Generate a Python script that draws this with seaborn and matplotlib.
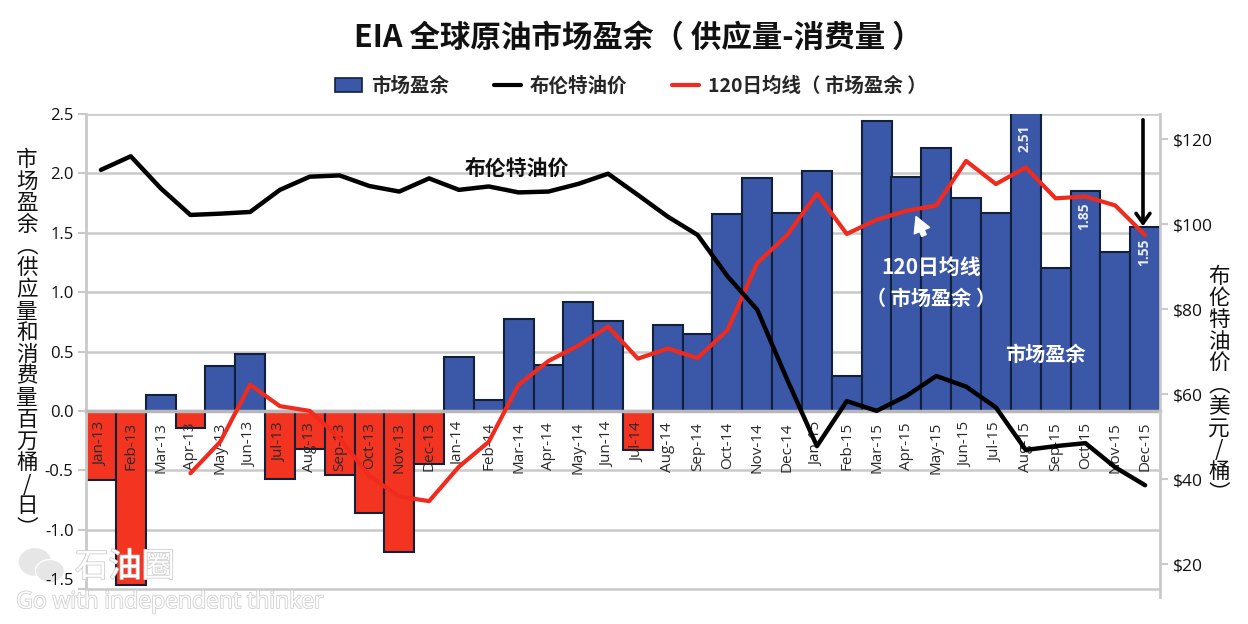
import numpy as np
import pandas as pd
import seaborn as sns
import matplotlib
matplotlib.use("Agg")
import matplotlib.pyplot as plt
import matplotlib.patheffects as pe
from matplotlib.patches import Patch, Ellipse, FancyArrowPatch
from matplotlib.lines import Line2D

months = ["Jan-13","Feb-13","Mar-13","Apr-13","May-13","Jun-13","Jul-13","Aug-13","Sep-13","Oct-13","Nov-13","Dec-13",
          "Jan-14","Feb-14","Mar-14","Apr-14","May-14","Jun-14","Jul-14","Aug-14","Sep-14","Oct-14","Nov-14","Dec-14",
          "Jan-15","Feb-15","Mar-15","Apr-15","May-15","Jun-15","Jul-15","Aug-15","Sep-15","Oct-15","Nov-15","Dec-15"]
surplus = [-0.58,-1.47,0.13,-0.14,0.38,0.48,-0.57,-0.32,-0.54,-0.86,-1.19,-0.45,
           0.45,0.09,0.77,0.39,0.92,0.755,-0.33,0.72,0.65,1.66,1.96,1.67,
           2.02,0.295,2.44,1.97,2.21,1.79,1.67,2.51,1.20,1.85,1.34,1.55]
brent = [112.8,116.0,108.5,102.2,102.5,102.9,108.1,111.2,111.5,109.0,107.7,110.8,
         108.1,108.9,107.5,107.7,109.5,111.9,106.9,101.8,97.5,87.8,79.9,63.5,
         47.8,58.4,56.1,59.6,64.3,61.8,56.9,46.9,47.8,48.5,42.8,38.6]
ma120 = [np.nan,np.nan,np.nan,-0.525,-0.26,0.22,0.04,0.0,-0.23,-0.55,-0.72,-0.76,
         -0.47,-0.26,0.22,0.42,0.55,0.71,0.44,0.525,0.445,0.68,1.245,1.48,
         1.83,1.49,1.61,1.685,1.73,2.105,1.91,2.05,1.79,1.805,1.73,1.48]
left_ticks = [-1.5,-1.0,-0.5,0.0,0.5,1.0,1.5,2.0,2.5]
right_ticks = [20,40,60,80,100,120]
title = "EIA 全球原油市场盈余（ 供应量-消费量 ）"
legend_labels = ["市场盈余","布伦特油价","120日均线（ 市场盈余 ）"]
ylabel_left = "市场盈余︵供应量和消费量百万桶/日︶"
ylabel_right = "布伦特油价︵美元/桶︶"

BLUE = "#3b57a8"; RED = "#f23420"; EDGE = "#12203a"; GRID = "#c9c9c9"
LATIN = ['Open Sans','DejaVu Sans']

sns.set_theme(style="white")
plt.rcParams['font.family'] = ['Noto Sans CJK SC', 'DejaVu Sans']

W, H = 1248, 624
fig = plt.figure(figsize=(W/100, H/100), dpi=100, facecolor="white")
def fx(x): return x/W
def fy(y): return 1-y/H
ax = fig.add_axes([fx(86), fy(597), (1160-86)/W, (597-114)/H])
ax.patch.set_visible(False)

df = pd.DataFrame({"month": months, "surplus": surplus,
                   "sign": ["pos" if v >= 0 else "neg" for v in surplus]})
sns.barplot(data=df, x="month", y="surplus", hue="sign", hue_order=["pos","neg"],
            palette={"pos": BLUE, "neg": RED}, dodge=False, width=1, saturation=1,
            edgecolor=EDGE, linewidth=1.5, legend=False, ax=ax, zorder=2)
pos = np.arange(len(months))
sns.lineplot(x=pos, y=ma120, color="#f02a1c", lw=3, ax=ax, zorder=4)

ax.set_ylim(-1.567, 2.5)
ax.set_yticks(left_ticks)
ax.set_yticklabels([f"{v:.1f}" for v in left_ticks], fontsize=12, color="#111111", family=LATIN)
ax.get_yticklabels()[0].set_va("bottom")
ax.set_xlabel(""); ax.set_ylabel("")
ax.grid(False)
ax.set_axisbelow(False)   # month labels stay readable on the red bars
for v in left_ticks:
    ax.axhline(v, color=GRID, lw=1.8, zorder=0.5)
for s in ["top","right"]:
    ax.spines[s].set_visible(False)
ax.spines["left"].set_color(GRID); ax.spines["left"].set_linewidth(2)
ax.spines["left"].set_bounds(-1.5, 2.5)
ax.spines["bottom"].set_position(("data", 0))
ax.spines["bottom"].set_color("#b8b8b8"); ax.spines["bottom"].set_linewidth(2.5)
ax.tick_params(axis="y", length=6, width=1.5, color=GRID, pad=3, left=True)

ax2 = ax.twinx()
sns.lineplot(x=pos, y=brent, color="black", lw=3.2, ax=ax2, zorder=3)
ax2.set_ylim(12.3, 125.95)
ax2.set_yticks(right_ticks)
ax2.set_yticklabels([f"${v}" for v in right_ticks], fontsize=12.5, color="#111111", family=LATIN)
ax2.set_ylabel("")
for s in ["top","left","bottom"]:
    ax2.spines[s].set_visible(False)
ax2.spines["right"].set_color(GRID); ax2.spines["right"].set_linewidth(2)
ax2.tick_params(axis="y", length=6, width=1.5, color=GRID, pad=3, right=True)
ax2.grid(False)

# month labels go on last: the twin resets the shared x axis ticks
ax.set_xlim(-0.5, 35.5)
ax.set_xticks(pos, labels=months)
ax.tick_params(axis="x", length=0, pad=8, labelrotation=90, labelsize=11, labelcolor="#2a2a2a", bottom=True, labelbottom=True)
for t in ax.get_xticklabels():
    t.set_family(LATIN)

fig.text(fx(638.5), fy(37.5), title, ha="center", va="center", fontsize=22, fontweight="bold", color="#111111")

handles = [Patch(facecolor=BLUE, edgecolor=EDGE, lw=1.2),
           Line2D([0],[0],color="black",lw=3),
           Line2D([0],[0],color="#f02a1c",lw=3)]
fig.legend(handles, legend_labels, loc="center", bbox_to_anchor=(fx(631), fy(86)), ncol=3, frameon=False,
           prop={"size":14,"weight":"bold"}, handlelength=1.4, handleheight=0.7, handletextpad=0.45, columnspacing=2.3)

fig.text(fx(27), fy(344), "\n".join(ylabel_left), ha="center", va="center", fontsize=15.5, linespacing=0.98, color="#111111")
fig.text(fx(1219), fy(385), "\n".join(ylabel_right), ha="center", va="center", fontsize=15.5, linespacing=0.98, color="#111111")

fig.text(fx(517), fy(168), "布伦特油价", ha="center", va="center", fontsize=15, fontweight="bold", color="#111111")
fig.text(fx(931), fy(267), "120日均线", ha="center", va="center", fontsize=15, fontweight="bold", color="white", zorder=10)
fig.text(fx(931), fy(298), "（ 市场盈余 ）", ha="center", va="center", fontsize=14.5, fontweight="bold", color="white", zorder=10)
fig.text(fx(1045), fy(354), "市场盈余", ha="center", va="center", fontsize=14.5, fontweight="bold", color="white", zorder=10)
for i, yy in [(31,138),(33,216),(35,252)]:
    fig.text(fx(101+29.83*i-1), fy(yy), f"{surplus[i]:.2f}", rotation=90, ha="center", va="center",
             fontsize=10, fontweight="bold", color="#e8eef8", zorder=10, family=LATIN)

fig.add_artist(FancyArrowPatch((fx(925),fy(238)),(fx(915),fy(214)),transform=fig.transFigure,
               arrowstyle="simple,head_width=12,head_length=11,tail_width=3.5",color="white",zorder=10))
fig.add_artist(FancyArrowPatch((fx(1143),fy(117)),(fx(1143),fy(229)),transform=fig.transFigure,
               arrowstyle="->,head_width=5,head_length=7",color="black",lw=2.6,zorder=10))

# watermark
for (cx, cy, w, h) in [(35,562,34,29),(50,571,29,23)]:
    fig.add_artist(Ellipse((fx(cx),fy(cy)),w/W,h/H,transform=fig.transFigure,facecolor="#e6e6e6",edgecolor="white",lw=1,zorder=-1))
stroke = [pe.withStroke(linewidth=1.2, foreground="#cfcfcf")]
fig.text(fx(125), fy(567), "石油圈", ha="center", va="center", fontsize=24, color="white", zorder=11, path_effects=stroke)
fig.text(fx(170), fy(602), "Go with independent thinker", ha="center", va="center", fontsize=16.5, color="white",
         zorder=11, family=LATIN, path_effects=stroke)

fig.savefig("out.png", dpi=100, facecolor="white")
